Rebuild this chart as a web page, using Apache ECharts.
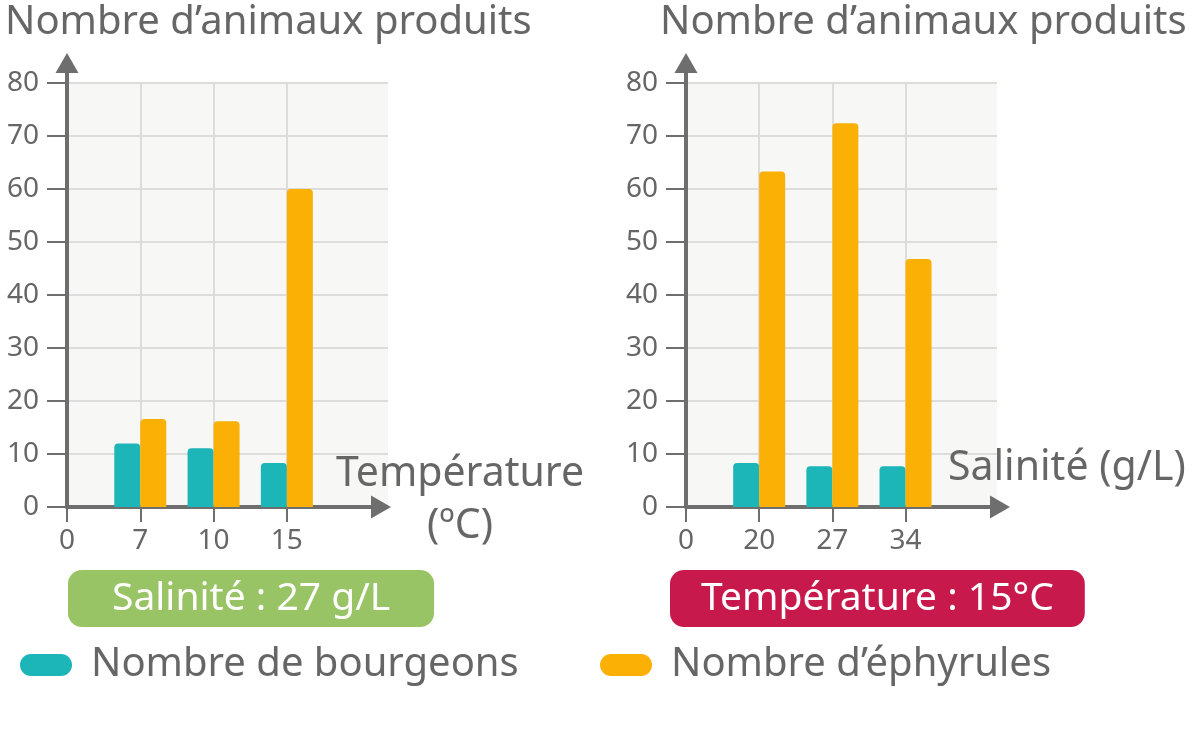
<!DOCTYPE html>
<html>
<head>
<meta charset="utf-8">
<script src="https://cdn.jsdelivr.net/npm/echarts@6/dist/echarts.min.js"></script>
<style>
  html, body { margin: 0; padding: 0; background: #fff; }
  #main { width: 1200px; height: 744px; }
</style>
</head>
<body>
<div id="main"></div>
<script>
// données
var tempTicks = ['0', '7', '10', '15'];
var budsTemp = [12, 11.1, 8.3];
var ephTemp = [16.6, 16.2, 60];

var salTicks = ['0', '20', '27', '34'];
var budsSal = [8.3, 7.7, 7.7];
var ephSal = [63.3, 72.4, 46.8];

var TEAL = '#1cb5b8', ORANGE = '#fab005', GREY = '#6e6e6e', TXT = '#666';
var FONT = 'Noto Sans';

// position sur l'axe : 1,2,3 -> valeur
function toPairs(arr) {
  return arr.map(function (v, i) { return [i + 1, v]; });
}

function plotX(grid, ticks, max) {
  return {
    type: 'value', gridIndex: grid, min: 0, max: max, interval: 1,
    axisLine: { show: false },
    axisTick: { show: true, customValues: [0, 1, 2, 3], length: 15, lineStyle: { color: GREY, width: 2 } },
    axisLabel: {
      customValues: [0, 1, 2, 3], margin: 20, color: TXT, fontSize: 28, fontFamily: FONT,
      formatter: function (v) { return ticks[v] !== undefined ? ticks[v] : ''; }
    },
    splitLine: { show: true, lineStyle: { color: ['#dcdcdc', '#dcdcdc', '#dcdcdc', '#dcdcdc', 'rgba(0,0,0,0)', 'rgba(0,0,0,0)'], width: 2 } }
  };
}
function plotY(grid) {
  return {
    type: 'value', gridIndex: grid, min: 0, max: 80, interval: 10,
    axisLine: { show: false },
    axisTick: { show: true, length: 20, lineStyle: { color: GREY, width: 2 } },
    axisLabel: { margin: 28, color: TXT, fontSize: 28, fontFamily: FONT },
    splitLine: { show: true, lineStyle: { color: '#dcdcdc', width: 2 } }
  };
}
// axes fléchés (grille vide)
function arrowAxis(grid) {
  return {
    type: 'value', gridIndex: grid, min: 0, max: 1,
    axisLine: { show: true, symbol: ['none', 'triangle'], symbolSize: [23, 20],
      lineStyle: { color: GREY, width: 4 } },
    axisTick: { show: false }, axisLabel: { show: false }, splitLine: { show: false }
  };
}

function bars(name, data, color, xi) {
  return {
    type: 'bar', name: name, xAxisIndex: xi, yAxisIndex: xi,
    data: toPairs(data), barWidth: 26, barGap: '0%',
    itemStyle: { color: color, borderRadius: [4, 4, 0, 0] },
    emphasis: { disabled: true }, z: 2
  };
}

var pill = 'path://M11,0 H41 A11,11 0 0 1 41,22 H11 A11,11 0 0 1 11,0 Z';
var txt = function (size) {
  return { color: TXT, fontSize: size, fontWeight: 'normal', fontFamily: FONT };
};

var myChart = echarts.init(document.getElementById('main'));
var option = {
  animation: false,
  grid: [
    { left: 67, top: 83, width: 321, height: 424, show: true, backgroundColor: '#f7f7f5', borderWidth: 0 },
    { left: 686, top: 83, width: 311, height: 424, show: true, backgroundColor: '#f7f7f5', borderWidth: 0 },
    { left: 67, top: 63, width: 314, height: 444, show: false },
    { left: 686, top: 63, width: 314, height: 444, show: false }
  ],
  xAxis: [
    plotX(0, tempTicks, 4.38),
    plotX(1, salTicks, 4.25),
    arrowAxis(2),
    arrowAxis(3)
  ],
  yAxis: [
    plotY(0),
    plotY(1),
    arrowAxis(2),
    arrowAxis(3)
  ],
  title: [
    { text: 'Nombre d’animaux produits', left: 0, top: -2, textStyle: txt(40) },
    { text: 'Nombre d’animaux produits', left: 655, top: -2, textStyle: txt(40) },
    { text: 'Température\n(ºC)', left: 455, top: 443, textAlign: 'center',
      textStyle: Object.assign(txt(41), { lineHeight: 52, align: 'center' }) },
    { text: 'Salinité (g/L)', left: 943, top: 443, textStyle: txt(41) },
    { text: 'Salinité : 27 g/L', left: 68, top: 570, backgroundColor: '#99c465', borderRadius: 14, padding: [6, 44, 5, 44],
      textStyle: { color: '#fff', fontSize: 39, fontWeight: 'normal', fontFamily: FONT, lineHeight: 46 } },
    { text: 'Température : 15°C', left: 670, top: 570, backgroundColor: '#c8194c', borderRadius: 14, padding: [6, 31, 5, 31],
      textStyle: { color: '#fff', fontSize: 39, fontWeight: 'normal', fontFamily: FONT, lineHeight: 46 } }
  ],
  legend: [
    { data: ['Nombre de bourgeons'], left: 15, top: 640, itemWidth: 52, itemHeight: 22, icon: pill,
      textStyle: { color: TXT, fontSize: 40, fontFamily: FONT, padding: [0, 0, 0, 14] }, selectedMode: false },
    { data: ['Nombre d’éphyrules'], left: 595, top: 640, itemWidth: 52, itemHeight: 22, icon: pill,
      textStyle: { color: TXT, fontSize: 40, fontFamily: FONT, padding: [0, 0, 0, 14] }, selectedMode: false }
  ],
  series: [
    bars('Nombre de bourgeons', budsTemp, TEAL, 0),
    bars('Nombre d’éphyrules', ephTemp, ORANGE, 0),
    bars('Nombre de bourgeons', budsSal, TEAL, 1),
    bars('Nombre d’éphyrules', ephSal, ORANGE, 1)
  ]
};
myChart.setOption(option);
</script>
</body>
</html>
